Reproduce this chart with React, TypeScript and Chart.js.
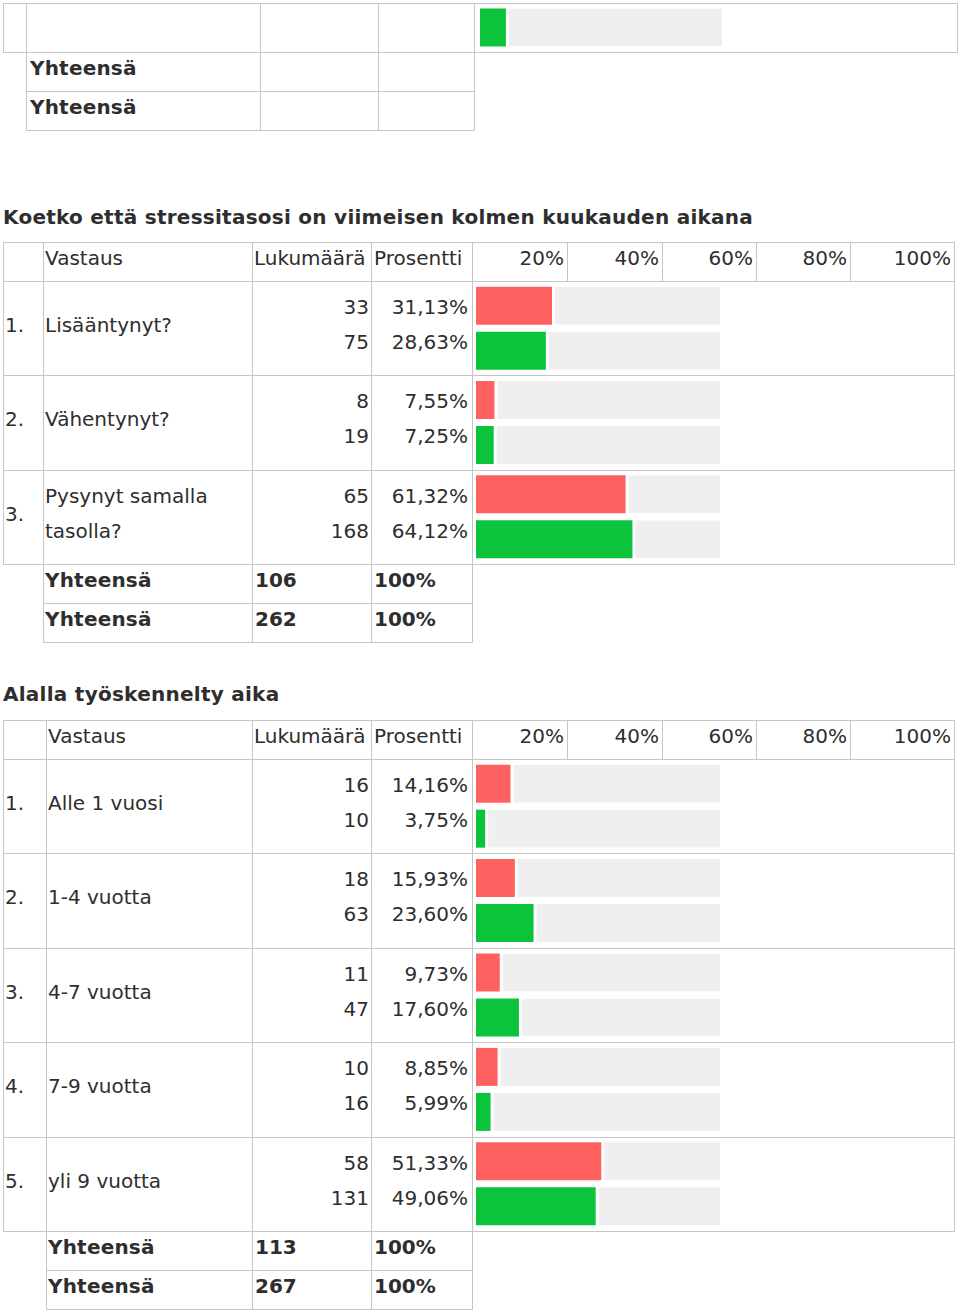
import React, { useEffect, useRef } from "react";
import { Chart, registerables } from "chart.js";

Chart.register(...registerables);

// ---------- data ----------
const headerTicks = ["20%", "40%", "60%", "80%", "100%"];
const headerLabels = ["Vastaus", "Lukumäärä", "Prosentti"];
const totalLabel = "Yhteensä";

const topFragmentPct = [10.7];

const q1Title = "Koetko että stressitasosi on viimeisen kolmen kuukauden aikana";
const q1Answers = ["Lisääntynyt?", "Vähentynyt?", "Pysynyt samalla tasolla?"];
const q1CountA = [33, 8, 65];
const q1CountB = [75, 19, 168];
const q1PctA = [31.13, 7.55, 61.32];
const q1PctB = [28.63, 7.25, 64.12];
const q1Totals = [106, 262];

const q2Title = "Alalla työskennelty aika";
const q2Answers = ["Alle 1 vuosi", "1-4 vuotta", "4-7 vuotta", "7-9 vuotta", "yli 9 vuotta"];
const q2CountA = [16, 18, 11, 10, 58];
const q2CountB = [10, 63, 47, 16, 131];
const q2PctA = [14.16, 15.93, 9.73, 8.85, 51.33];
const q2PctB = [3.75, 23.6, 17.6, 5.99, 49.06];
const q2Totals = [113, 267];

// ---------- style ----------
const FONT = '"DejaVu Sans", Verdana, sans-serif';
const TEXT = "#2e2e2e";
const LINE = "#c6c6c6";
const RED = "#ff6161";
const GREEN = "#0cc43c";
const TRACK = "#efefef";

const fmtPct = (v: number) => v.toFixed(2).replace(".", ",") + "%";

function Cell({ x1, y1, x2, y2 }: { x1: number; y1: number; x2: number; y2: number }) {
  return (
    <div
      style={{
        position: "absolute",
        left: x1,
        top: y1,
        width: x2 - x1 + 1,
        height: y2 - y1 + 1,
        border: `1px solid ${LINE}`,
        boxSizing: "border-box",
      }}
    />
  );
}

function T({
  x,
  y,
  w,
  h,
  align,
  bold,
  spacing,
  children,
}: {
  x: number;
  y: number;
  w: number;
  h: number;
  align?: "left" | "right";
  bold?: boolean;
  spacing?: number;
  children: React.ReactNode;
}) {
  return (
    <div
      style={{
        position: "absolute",
        left: x,
        top: y,
        width: w,
        height: h,
        lineHeight: `${h}px`,
        textAlign: align || "left",
        fontWeight: bold ? "bold" : "normal",
        whiteSpace: "nowrap",
        letterSpacing: spacing ? `${spacing}px` : undefined,
      }}
    >
      {children}
    </div>
  );
}

function BarBlock({
  left,
  top,
  width,
  height,
  groups,
  colors,
  catPct,
  barPct,
}: {
  left: number;
  top: number;
  width: number;
  height: number;
  groups: number[][];
  colors: string[];
  catPct: number;
  barPct: number;
}) {
  const ref = useRef<HTMLCanvasElement>(null);
  useEffect(() => {
    if (!ref.current) return;
    const labels = groups[0].map((_, i) => String(i + 1));
    const datasets: any[] = [];
    groups.forEach((g, gi) => {
      datasets.push({
        label: "v" + gi,
        data: g,
        backgroundColor: colors[gi],
        borderWidth: 0,
        inflateAmount: 0,
        stack: "s" + gi,
      });
      datasets.push({
        label: "r" + gi,
        data: g.map((v) => 100 - v),
        backgroundColor: TRACK,
        borderColor: "#ffffff",
        borderWidth: { left: 3, right: 0, top: 0, bottom: 0 },
        borderSkipped: false,
        inflateAmount: 0,
        stack: "s" + gi,
      });
    });
    const chart = new Chart(ref.current, {
      type: "bar",
      data: { labels, datasets },
      options: {
        indexAxis: "y",
        animation: false,
        responsive: false,
        maintainAspectRatio: false,
        layout: { padding: 0 },
        datasets: { bar: { categoryPercentage: catPct, barPercentage: barPct } } as any,
        plugins: { legend: { display: false }, tooltip: { enabled: false } },
        scales: {
          x: { display: false, min: 0, max: 100, stacked: true },
          y: { display: false },
        },
      },
    });
    return () => chart.destroy();
  }, []);
  return (
    <canvas
      ref={ref}
      width={width}
      height={height}
      style={{ position: "absolute", left, top, width, height, pointerEvents: "none" }}
    />
  );
}

const tickCols = [472, 567, 662, 756, 850, 954];

function Section({
  title,
  titleTop,
  tableTop,
  col1,
  answers,
  countA,
  countB,
  pctA,
  pctB,
  totals,
  rowH,
}: {
  title: string;
  titleTop: number;
  tableTop: number;
  col1: number;
  answers: string[];
  countA: number[];
  countB: number[];
  pctA: number[];
  pctB: number[];
  totals: number[];
  rowH: number;
}) {
  const headBottom = tableTop + 39;
  const rowTop = (i: number) => Math.round(headBottom + i * rowH);
  const n = answers.length;
  const bodyEnd = rowTop(n);
  const els: React.ReactNode[] = [];
  els.push(
    <T key="title" x={3} y={titleTop} w={950} h={34} bold spacing={0.26}>
      {title}
    </T>
  );
  // header
  const hcols = [3, col1, 252, 371, 472];
  for (let c = 0; c < 4; c++) els.push(<Cell key={"hc" + c} x1={hcols[c]} y1={tableTop} x2={hcols[c + 1]} y2={headBottom} />);
  for (let c = 0; c < 5; c++) els.push(<Cell key={"tc" + c} x1={tickCols[c]} y1={tableTop} x2={tickCols[c + 1]} y2={headBottom} />);
  els.push(<T key="h0" x={col1 + 2} y={tableTop} w={200} h={33}>{headerLabels[0]}</T>);
  els.push(<T key="h1" x={254} y={tableTop} w={116} h={33}>{headerLabels[1]}</T>);
  els.push(<T key="h2" x={374} y={tableTop} w={97} h={33}>{headerLabels[2]}</T>);
  headerTicks.forEach((t, i) =>
    els.push(
      <T key={"ht" + i} x={tickCols[i]} y={tableTop} w={tickCols[i + 1] - tickCols[i] - 3} h={33} align="right">
        {t}
      </T>
    )
  );
  // body rows
  for (let i = 0; i < n; i++) {
    const y1 = rowTop(i);
    const y2 = rowTop(i + 1);
    const bc = [3, col1, 252, 371, 472, 954];
    for (let c = 0; c < 5; c++) els.push(<Cell key={`b${i}-${c}`} x1={bc[c]} y1={y1} x2={bc[c + 1]} y2={y2} />);
    els.push(
      <div
        key={"num" + i}
        style={{ position: "absolute", left: 5, top: y1, height: 88, display: "flex", alignItems: "center", lineHeight: "35px" }}
      >
        {i + 1 + "."}
      </div>
    );
    els.push(
      <div
        key={"lab" + i}
        style={{
          position: "absolute",
          left: col1 + 2,
          top: y1,
          width: 252 - col1 - 6,
          height: 88,
          display: "flex",
          alignItems: "center",
        }}
      >
        <div style={{ lineHeight: "35px" }}>{answers[i]}</div>
      </div>
    );
    els.push(
      <div key={"cnt" + i} style={{ position: "absolute", left: 254, top: y1 + 9, width: 115, lineHeight: "35px", textAlign: "right" }}>
        <div>{countA[i]}</div>
        <div>{countB[i]}</div>
      </div>
    );
    els.push(
      <div key={"pct" + i} style={{ position: "absolute", left: 373, top: y1 + 9, width: 95, lineHeight: "35px", textAlign: "right" }}>
        <div>{fmtPct(pctA[i])}</div>
        <div>{fmtPct(pctB[i])}</div>
      </div>
    );
  }
  // totals
  totals.forEach((tv, k) => {
    const y1 = bodyEnd + k * 39;
    const y2 = y1 + 39;
    const tc = [col1, 252, 371, 472];
    for (let c = 0; c < 3; c++) els.push(<Cell key={`t${k}-${c}`} x1={tc[c]} y1={y1} x2={tc[c + 1]} y2={y2} />);
    els.push(<T key={"tl" + k} x={col1 + 2} y={y1} w={200} h={33} bold spacing={0.2}>{totalLabel}</T>);
    els.push(<T key={"tn" + k} x={255} y={y1} w={110} h={33} bold>{tv}</T>);
    els.push(<T key={"tp" + k} x={374} y={y1} w={95} h={33} bold>100%</T>);
  });
  els.push(
    <BarBlock
      key="bars"
      left={476}
      top={headBottom}
      width={244}
      height={bodyEnd - headBottom}
      groups={[pctA, pctB]}
      colors={[RED, GREEN]}
      catPct={90 / rowH}
      barPct={38 / 45}
    />
  );
  return <>{els}</>;
}

export default function App() {
  return (
    <div
      style={{
        position: "absolute",
        left: 0,
        top: 0,
        width: 960,
        height: 1311,
        overflow: "hidden",
        background: "#ffffff",
        fontFamily: FONT,
        fontSize: 20,
        color: TEXT,
      }}
    >
      {/* top fragment of previous table */}
      {[3, 26, 260, 378, 474].map((x, i, a) =>
        i < a.length - 1 ? <Cell key={"f" + i} x1={x} y1={3} x2={a[i + 1]} y2={52} /> : null
      )}
      <Cell x1={474} y1={3} x2={957} y2={52} />
      {[52, 91].map((y, k) => (
        <React.Fragment key={"ft" + k}>
          <Cell x1={26} y1={y} x2={260} y2={y + 39} />
          <Cell x1={260} y1={y} x2={378} y2={y + 39} />
          <Cell x1={378} y1={y} x2={474} y2={y + 39} />
          <T x={30} y={y} w={220} h={32} bold spacing={0.2}>
            {totalLabel}
          </T>
        </React.Fragment>
      ))}
      <BarBlock left={480} top={3} width={242} height={49} groups={[topFragmentPct]} colors={[GREEN]} catPct={1} barPct={38 / 49} />

      <Section
        title={q1Title}
        titleTop={200}
        tableTop={242}
        col1={43}
        answers={q1Answers}
        countA={q1CountA}
        countB={q1CountB}
        pctA={q1PctA}
        pctB={q1PctB}
        totals={q1Totals}
        rowH={94.33}
      />
      <Section
        title={q2Title}
        titleTop={677}
        tableTop={720}
        col1={46}
        answers={q2Answers}
        countA={q2CountA}
        countB={q2CountB}
        pctA={q2PctA}
        pctB={q2PctB}
        totals={q2Totals}
        rowH={94.4}
      />
    </div>
  );
}
